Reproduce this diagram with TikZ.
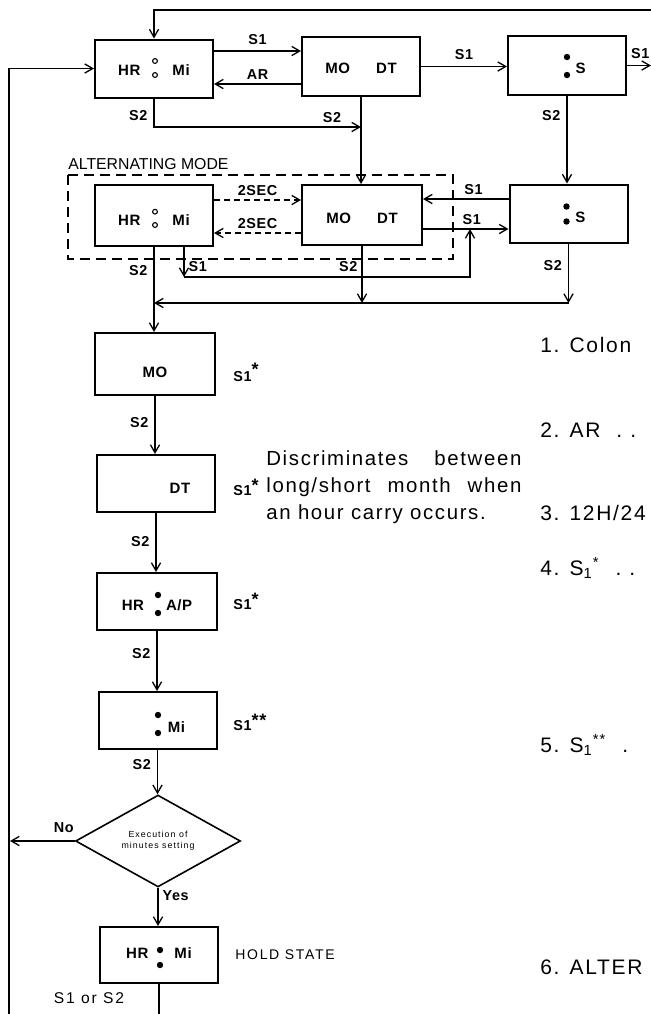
\documentclass[tikz,border=0pt]{standalone}
\usepackage{fontspec}
\setmainfont{Liberation Sans}
\newfontfamily\lblfont[LetterSpace=4]{Liberation Sans}
\newfontfamily\notefont[LetterSpace=8]{Liberation Sans}
\newfontfamily\widefont[LetterSpace=12]{Liberation Sans}
\usetikzlibrary{arrows.meta,shapes.geometric}

\begin{document}
\begin{tikzpicture}[
  x=0.5pt, y=-0.5pt,
  >={Straight Barb[length=4pt,width=4.6pt]},
  state/.style={draw, line width=1pt, minimum width=59pt, minimum height=29pt,
    inner sep=0pt, text depth=0pt, text height=5.3pt,
    font=\lblfont\bfseries\fontsize{7.5}{9}\selectfont},
  cond/.style={draw, diamond, line width=0.8pt, minimum width=82.5pt,
    minimum height=29pt, inner sep=0pt, align=center,
    font=\widefont\fontsize{4.4}{5.4}\selectfont},
  flow/.style={->, line width=0.65pt},
  wire/.style={line width=0.65pt},
  timed/.style={->, line width=0.65pt, dash pattern=on 3pt off 2pt},
  frame/.style={line width=0.8pt, dash pattern=on 5pt off 3pt},
  key/.style={font=\lblfont\bfseries\fontsize{7.2}{8}\selectfont, inner sep=1pt},
  plain/.style={font=\lblfont\fontsize{7.2}{8}\selectfont, inner sep=0pt},
  note/.style={font=\notefont\fontsize{10.5}{13}\selectfont, anchor=west, inner sep=0pt},
  opendot/.style={draw, line width=0.55pt},
  fulldot/.style={fill=black}
]
\useasboundingbox (0,0) rectangle (651,1014);

% top row
\node[state, text height=6.8pt] (hm) at (154,68.5) {HR\hspace{16pt}Mi\hspace{4pt}};
\node[state, minimum height=29.5pt, text height=6.8pt] (md) at (361,66.5) {MO\hspace{13pt}DT};
\node[state, minimum height=29.5pt, text height=7.8pt] (sc) at (567,65.5) {\hspace{13.5pt}S};

% alternating mode
\draw[frame] (68,175) rectangle (453,259);
\node[plain, anchor=base west, font=\fontsize{7.9}{9}\selectfont] (altname) at (68,169) {ALTERNATING MODE};
\node[state, minimum height=30.5pt, text height=9.8pt] (hm2) at (154,215.5) {HR\hspace{16pt}Mi\hspace{4pt}};
\node[state, minimum width=60pt, minimum height=30pt, text height=8.3pt] (md2) at (362,215) {MO\hspace{13pt}DT};
\node[state, text height=8.8pt] (sc2) at (568.5,213.5) {\hspace{12pt}S};

% setting sequence
\node[state, minimum width=60pt, minimum height=31pt, text height=13.3pt] (mo) at (155,364) {MO\hspace{24pt}};
\node[state, minimum height=28.5pt, text height=9.8pt] (dt) at (156,483.5) {\hspace{24pt}DT};
\node[state, minimum width=60pt, minimum height=28.5pt, text height=8.8pt] (ap) at (157,601.5) {HR\hspace{11pt}A/P\hspace{4.5pt}};
\node[state, minimum height=28.5pt, text height=11.8pt] (mi) at (157.5,720.5) {\hspace{19pt}Mi};
\node[cond] (dia) at (158,841) {Execution of\\minutes setting};
\node[state, minimum height=28pt, text height=3.3pt] (hold) at (159,955) {HR\hspace{13pt}Mi\hspace{3pt}};

% colons
\foreach \n/\dx/\dya/\dyb in {hm/1/-7.5/6.5, hm2/1/-3.8/9.5} {
  \foreach \dy in {\dya,\dyb}
    \draw[opendot] ([shift={(\dx,\dy)}]\n.center) circle (1.2pt);
}
\foreach \n/\dx/\dya/\dyb in {sc/0/-8.5/9.5, sc2/-2/-7/8, ap/1/-6.5/11.5, mi/0.5/-5.5/12.5, hold/1/-5/10} {
  \foreach \dy in {\dya,\dyb}
    \fill[fulldot] ([shift={(\dx,\dy)}]\n.center) circle (1.6pt);
}

\coordinate (topR) at (651,10);
\coordinate (outR) at (651,65.5);
\coordinate (backL) at (9,1014);
\coordinate (noEnd) at (10,841);
\coordinate (holdEnd) at (159,1014);
\coordinate (c1) at (184,277);
\coordinate (c2) at (470,277);
\coordinate (s1in) at ([yshift=-7pt]md2.east);

% top row connectors
\draw[flow] (topR) -| (hm.north);
\draw[flow] (backL) |- (hm.west);
\draw[flow] ([yshift=8.75pt]hm.east) -- node[key, above=2pt] {S1} ([yshift=8.75pt]hm.east -| md.west);
\draw[flow] ([yshift=-8.75pt]md.west) -- node[key, above=1pt] {AR} ([yshift=-8.75pt]md.west -| hm.east);
\draw[flow] (hm.south) |- node[key, pos=0.3, left=2pt] {S2} node[key, pos=0.93, above=1pt] {S2} (md.south |- 0,127);
\draw[flow] (md.south) -- (md.south |- md2.north);
\draw[flow] (md.east) -- node[key, above=2pt] {S1} (md.east -| sc.west);
\draw[flow] (sc.east) -- node[key, above=2pt, pos=0.55] {S1} (outR);
\draw[flow] (sc.south) -- node[key, pos=0.22, left=2pt] {S2} (sc.south |- sc2.north);

% alternating mode connectors
\draw[timed] ([yshift=7.75pt]hm2.east) -- node[key, above=1pt] {2SEC} ([yshift=7.75pt]hm2.east -| md2.west);
\draw[timed] ([yshift=-9pt]md2.west) -- node[key, above=1pt] {2SEC} ([yshift=-9pt]md2.west -| hm2.east);
\draw[flow] ([yshift=7.25pt]sc2.west) -- node[key, above=1pt, pos=0.41] {S1} ([yshift=7.25pt]sc2.west -| md2.east);
\draw[flow] (s1in) -- node[key, above=1pt, pos=0.57] {S1} (s1in -| sc2.west);
\draw[flow] (hm2.south -| c1) -- node[key, right=1pt, pos=0.65] {S1} (c1);
\draw[flow] (c1) -- (c2) -- (c2 |- s1in);
\draw[flow] (md2.south) -- node[key, pos=0.36, left=1pt] {S2} (md2.south |- 0,303);
\draw[flow] (sc2.south) -- node[key, pos=0.37, left=2pt] {S2} (sc2.south |- 0,303);
\draw[flow] (sc2.south |- 0,303) -- (hm2.south |- 0,303);
\draw[flow] (hm2.south) -- node[key, pos=0.28, left=2pt] {S2} (hm2.south |- mo.north);

% setting sequence connectors
\draw[flow] (mo.south) -- node[key, pos=0.45, left=2pt] {S2} (mo.south |- dt.north);
\draw[flow] (dt.south) -- node[key, pos=0.49, left=2pt] {S2} (dt.south |- ap.north);
\draw[flow] (ap.south) -- node[key, pos=0.37, left=2pt] {S2} (ap.south |- mi.north);
\draw[flow] (mi.south) -- node[key, pos=0.33, left=2pt] {S2} (mi.south |- dia.north);
\draw[flow] (dia.west) -- node[key, above=3pt, pos=0.17] {No} (noEnd);
\draw[flow] (dia.south) -- node[key, right=1pt, pos=0.2] {Yes} (dia.south |- hold.north);
\draw[wire] (hold.south) -- (holdEnd);

\node[key, anchor=west] (kmo) at (231,372) {S1\raisebox{3pt}{\fontsize{9}{9}\selectfont*}};
\node[key, anchor=west] (kdt) at (231,487) {S1\raisebox{2pt}{\fontsize{9}{9}\selectfont*}};
\node[key, anchor=west] (kap) at (231,601) {S1\raisebox{2pt}{\fontsize{9}{9}\selectfont*}};
\node[key, anchor=west] (kmi) at (231,722) {S1\raisebox{2pt}{\fontsize{9}{9}\selectfont**}};
\node[plain, anchor=west, font=\widefont\fontsize{7}{8}\selectfont] (holdname) at (235,955) {HOLD STATE};
\node[plain, font=\widefont\fontsize{7.8}{9}\selectfont] (anykey) at (89,998) {S1 or S2};

\node[anchor=north west, inner sep=0pt, align=left, font=\notefont\fontsize{10.2}{13.5}\selectfont] (carry) at (266,450)
  {\makebox[127.5pt][s]{Discriminates between}\\\makebox[127.5pt][s]{long/short month when}\\an hour carry occurs.};

% notes on the right
\node[note] (n1) at (540,345) {1. Colon};
\node[note] (n2) at (540,430) {2. AR\hspace{8pt}.\hspace{4pt}.};
\node[note] (n3) at (540,513) {3. 12H/24};
\node[note] (n4) at (540,568) {4. S\textsubscript{1}\textsuperscript{*}\hspace{8pt}.\hspace{4pt}.};
\node[note] (n5) at (540,745) {5. S\textsubscript{1}\textsuperscript{**}\hspace{8pt}.};
\node[note] (n6) at (540,967) {6. ALTER};
\end{tikzpicture}
\end{document}
